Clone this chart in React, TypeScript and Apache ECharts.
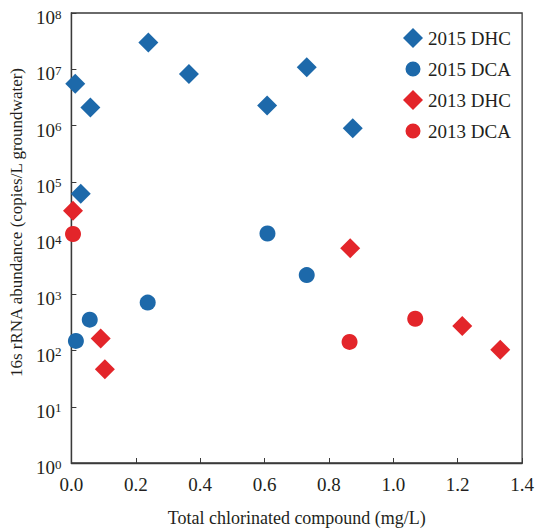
import React, { useEffect, useRef } from "react";
import * as echarts from "echarts";

const dhc2015: [number, number][] = [
  [0.012, 5.5e6], [0.059, 2.1e6], [0.239, 3.0e7], [0.365, 8.2e6],
  [0.608, 2.27e6], [0.731, 1.09e7], [0.874, 8.9e5], [0.029, 6.1e4],
];
const dca2015: [number, number][] = [
  [0.014, 148], [0.057, 353], [0.237, 711], [0.609, 1.2e4], [0.731, 2190],
];
const dhc2013: [number, number][] = [
  [0.005, 3.05e4], [0.091, 163], [0.104, 46.5], [0.866, 6.6e3], [1.214, 272], [1.332, 103],
];
const dca2013: [number, number][] = [
  [0.005, 1.18e4], [0.864, 142], [1.068, 367],
];

const seriesNames = ["2015 DHC", "2015 DCA", "2013 DHC", "2013 DCA"];
const BLUE = "#1d69aa";
const RED = "#e3252a";
const FONT = "Liberation Serif";
const TXT = "#231f20";
const AXIS = "#3a3a3a";
const circleIcon = "path://M0,0 M20,20 M2.5,10 a7.5,7.5 0 1,0 15,0 a7.5,7.5 0 1,0 -15,0 Z";

export default function App() {
  const ref = useRef<HTMLDivElement>(null);
  useEffect(() => {
    if (!ref.current) return;
    const chart = echarts.init(ref.current, undefined, { renderer: "svg" });
    const mk = (name: string, symbol: string, size: number, color: string, data: [number, number][]) => ({
      name, type: "scatter", symbol, symbolSize: size,
      itemStyle: { color, opacity: 1 },
      emphasis: { disabled: true },
      data,
    });
    chart.setOption({
      animation: false,
      backgroundColor: "#ffffff",
      textStyle: { fontFamily: FONT, color: TXT },
      grid: {
        left: 68, right: 12, top: 13, bottom: 64,
        show: true, borderColor: AXIS, borderWidth: 1.3,
      },
      legend: {
        orient: "vertical",
        left: 403,
        top: 28,
        padding: 0,
        itemWidth: 20,
        itemHeight: 20,
        itemGap: 11,
        textStyle: { fontFamily: FONT, fontSize: 19, color: TXT },
        data: [
          { name: seriesNames[0], icon: "diamond" },
          { name: seriesNames[1], icon: circleIcon },
          { name: seriesNames[2], icon: "diamond" },
          { name: seriesNames[3], icon: circleIcon },
        ],
      },
      xAxis: {
        type: "value",
        min: 0,
        max: 1.4,
        interval: 0.2,
        name: "Total chlorinated compound (mg/L)",
        nameLocation: "middle",
        nameGap: 46,
        nameTextStyle: { fontFamily: FONT, fontSize: 18, color: TXT },
        axisLine: { show: true, lineStyle: { color: AXIS, width: 1.3 } },
        axisTick: { show: true, inside: true, length: 5, lineStyle: { color: AXIS } },
        axisLabel: {
          fontFamily: FONT, fontSize: 19, color: TXT, margin: 12,
          formatter: (v: number) => v.toFixed(1),
        },
        splitLine: { show: false },
      },
      yAxis: {
        type: "log",
        logBase: 10,
        min: 1,
        max: 1e8,
        interval: 1,
        name: "16s rRNA abundance (copies/L groundwater)",
        nameLocation: "middle",
        nameGap: 31,
        nameTextStyle: { fontFamily: FONT, fontSize: 17, color: TXT, padding: [0, 0, 0, 31] },
        axisLine: { show: true, lineStyle: { color: AXIS, width: 1.3 } },
        axisTick: { show: true, inside: true, length: 5, lineStyle: { color: AXIS } },
        axisLabel: {
          margin: 10,
          formatter: (v: number) => `{b|10}{s|${Math.round(Math.log10(v))}}`,
          rich: {
            b: { fontFamily: FONT, fontSize: 19, color: TXT, padding: [9, 0, 0, 0] },
            s: { fontFamily: FONT, fontSize: 13, color: TXT, padding: [2, 0, 0, 0] },
          },
        },
        splitLine: { show: false },
      },
      series: [
        mk(seriesNames[0], "diamond", 20, BLUE, dhc2015),
        mk(seriesNames[1], "circle", 16, BLUE, dca2015),
        mk(seriesNames[2], "diamond", 20, RED, dhc2013),
        mk(seriesNames[3], "circle", 16, RED, dca2013),
      ],
    });
    return () => chart.dispose();
  }, []);
  return <div ref={ref} style={{ width: 537, height: 532, position: "absolute", left: 0, top: 0 }} />;
}
